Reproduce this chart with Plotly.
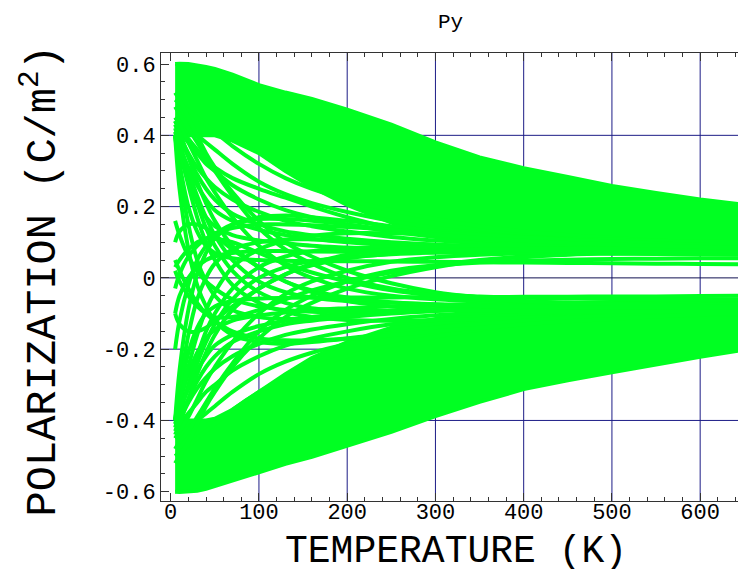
import plotly.graph_objects as go

# ---------------- data ----------------
temperature = [5, 10, 20, 30, 40, 50, 70, 100, 130, 160, 200, 250, 300, 350, 400, 450, 500, 550, 600, 650]

# solid cores of the two bands
upper_top = [0.600, 0.601, 0.600, 0.597, 0.592, 0.586, 0.570, 0.541, 0.520, 0.502, 0.472, 0.430, 0.380, 0.338, 0.308, 0.283, 0.258, 0.238, 0.220, 0.205]
upper_bottom = [0.40, 0.40, 0.40, 0.40, 0.40, 0.40, 0.385, 0.35, 0.30, 0.255, 0.205, 0.155, 0.118, 0.098, 0.086, 0.079, 0.074, 0.071, 0.069, 0.067]
lower_bottom = [-0.600, -0.601, -0.600, -0.597, -0.592, -0.586, -0.570, -0.545, -0.522, -0.502, -0.472, -0.432, -0.388, -0.348, -0.312, -0.287, -0.265, -0.242, -0.221, -0.202]
lower_top = [-0.40, -0.40, -0.40, -0.40, -0.40, -0.395, -0.37, -0.32, -0.27, -0.225, -0.18, -0.14, -0.115, -0.10, -0.093, -0.09, -0.088, -0.087, -0.086, -0.085]

# curves fanning out of the upper band and staying positive
upper_fan = [
    [0.42, 0.41, 0.38, 0.35, 0.32, 0.30, 0.26, 0.22, 0.19, 0.17, 0.15, 0.13, 0.115, 0.105, 0.098, 0.092, 0.088, 0.085, 0.082, 0.080],
    [0.40, 0.37, 0.31, 0.26, 0.22, 0.19, 0.16, 0.135, 0.12, 0.11, 0.10, 0.092, 0.087, 0.083, 0.080, 0.078, 0.076, 0.074, 0.073, 0.072],
    [0.45, 0.44, 0.42, 0.40, 0.38, 0.36, 0.32, 0.27, 0.235, 0.21, 0.185, 0.16, 0.14, 0.125, 0.115, 0.107, 0.100, 0.095, 0.090, 0.087],
    [0.40, 0.35, 0.27, 0.21, 0.17, 0.145, 0.12, 0.105, 0.097, 0.090, 0.085, 0.080, 0.077, 0.074, 0.072, 0.070, 0.068, 0.067, 0.066, 0.065],
    [0.50, 0.49, 0.47, 0.45, 0.43, 0.41, 0.37, 0.32, 0.28, 0.25, 0.22, 0.19, 0.165, 0.145, 0.130, 0.120, 0.112, 0.105, 0.100, 0.096],
    [0.41, 0.39, 0.34, 0.29, 0.25, 0.22, 0.18, 0.15, 0.13, 0.12, 0.11, 0.10, 0.093, 0.088, 0.084, 0.081, 0.078, 0.076, 0.074, 0.072],
    [0.40, 0.32, 0.20, 0.13, 0.09, 0.07, 0.055, 0.050, 0.048, 0.047, 0.047, 0.046, 0.045, 0.044, 0.043, 0.042, 0.041, 0.040, 0.039, 0.038],
    [0.43, 0.40, 0.35, 0.31, 0.28, 0.255, 0.22, 0.185, 0.16, 0.145, 0.13, 0.115, 0.105, 0.098, 0.093, 0.089, 0.086, 0.083, 0.081, 0.079],
    [0.44, 0.42, 0.39, 0.36, 0.33, 0.31, 0.28, 0.25, 0.225, 0.20, 0.17, 0.14, 0.12, 0.108, 0.10, 0.094, 0.09, 0.087, 0.085, 0.083],
]

# curves fanning out of the lower band and staying negative
lower_fan = [
    [-0.42, -0.41, -0.38, -0.35, -0.32, -0.30, -0.26, -0.22, -0.19, -0.17, -0.15, -0.13, -0.118, -0.108, -0.10, -0.095, -0.091, -0.088, -0.085, -0.083],
    [-0.40, -0.37, -0.31, -0.26, -0.22, -0.19, -0.16, -0.135, -0.12, -0.11, -0.10, -0.092, -0.087, -0.083, -0.080, -0.078, -0.076, -0.074, -0.073, -0.072],
    [-0.45, -0.44, -0.42, -0.40, -0.38, -0.36, -0.32, -0.27, -0.235, -0.21, -0.185, -0.16, -0.14, -0.125, -0.115, -0.107, -0.100, -0.095, -0.090, -0.087],
    [-0.40, -0.35, -0.27, -0.21, -0.17, -0.145, -0.12, -0.105, -0.097, -0.090, -0.085, -0.080, -0.077, -0.074, -0.072, -0.070, -0.068, -0.067, -0.066, -0.065],
    [-0.50, -0.49, -0.47, -0.45, -0.43, -0.41, -0.37, -0.32, -0.28, -0.25, -0.22, -0.19, -0.165, -0.145, -0.130, -0.120, -0.112, -0.105, -0.100, -0.096],
    [-0.41, -0.39, -0.34, -0.29, -0.25, -0.22, -0.18, -0.15, -0.13, -0.12, -0.11, -0.10, -0.093, -0.088, -0.084, -0.081, -0.078, -0.076, -0.074, -0.072],
    [-0.40, -0.33, -0.21, -0.14, -0.10, -0.08, -0.065, -0.058, -0.056, -0.055, -0.055, -0.055, -0.054, -0.054, -0.053, -0.053, -0.052, -0.052, -0.051, -0.050],
    [-0.43, -0.40, -0.35, -0.31, -0.28, -0.255, -0.22, -0.185, -0.16, -0.145, -0.13, -0.115, -0.105, -0.098, -0.093, -0.089, -0.086, -0.083, -0.081, -0.079],
]

# curves switching from positive to negative
cross_down = [
    [0.40, 0.30, 0.15, 0.05, -0.01, -0.05, -0.09, -0.11, -0.115, -0.112, -0.105, -0.098, -0.092, -0.088, -0.085, -0.083, -0.081, -0.080, -0.079, -0.078],
    [0.42, 0.38, 0.29, 0.21, 0.14, 0.09, 0.02, -0.04, -0.07, -0.085, -0.092, -0.093, -0.090, -0.087, -0.084, -0.082, -0.080, -0.078, -0.077, -0.076],
    [0.45, 0.43, 0.38, 0.33, 0.28, 0.24, 0.17, 0.09, 0.035, 0.0, -0.03, -0.05, -0.06, -0.066, -0.069, -0.071, -0.072, -0.073, -0.073, -0.074],
    [0.16, 0.12, 0.06, 0.02, -0.01, -0.03, -0.06, -0.08, -0.09, -0.095, -0.095, -0.093, -0.090, -0.088, -0.086, -0.084, -0.083, -0.082, -0.081, -0.080],
    [0.40, 0.36, 0.26, 0.17, 0.10, 0.05, -0.02, -0.07, -0.095, -0.11, -0.118, -0.12, -0.118, -0.115, -0.112, -0.110, -0.108, -0.106, -0.104, -0.102],
    [0.48, 0.46, 0.42, 0.38, 0.34, 0.30, 0.23, 0.14, 0.08, 0.04, 0.0, -0.03, -0.045, -0.052, -0.056, -0.058, -0.059, -0.060, -0.060, -0.060],
    [0.03, 0.05, 0.08, 0.10, 0.11, 0.11, 0.10, 0.07, 0.04, 0.015, -0.01, -0.035, -0.05, -0.06, -0.066, -0.07, -0.072, -0.074, -0.075, -0.076],
    [0.40, 0.25, 0.08, -0.02, -0.08, -0.12, -0.16, -0.18, -0.185, -0.18, -0.17, -0.155, -0.14, -0.13, -0.12, -0.112, -0.106, -0.100, -0.096, -0.093],
    [0.41, 0.37, 0.30, 0.23, 0.17, 0.12, 0.05, -0.01, -0.04, -0.055, -0.065, -0.07, -0.074, -0.076, -0.078, -0.079, -0.080, -0.080, -0.081, -0.081],
    [0.05, 0.02, -0.03, -0.07, -0.10, -0.12, -0.15, -0.17, -0.175, -0.175, -0.17, -0.16, -0.15, -0.14, -0.13, -0.122, -0.115, -0.108, -0.102, -0.098],
    [0.52, 0.50, 0.45, 0.40, 0.35, 0.31, 0.24, 0.16, 0.10, 0.06, 0.02, -0.015, -0.04, -0.055, -0.065, -0.07, -0.074, -0.077, -0.079, -0.080],
    [0.44, 0.41, 0.34, 0.27, 0.21, 0.16, 0.09, 0.03, -0.01, -0.035, -0.055, -0.068, -0.075, -0.079, -0.081, -0.082, -0.083, -0.083, -0.083, -0.083],
    [0.10, 0.13, 0.15, 0.15, 0.14, 0.12, 0.08, 0.03, -0.01, -0.04, -0.065, -0.08, -0.088, -0.092, -0.094, -0.095, -0.095, -0.095, -0.094, -0.094],
]

# curves switching from negative to positive
cross_up = [
    [-0.40, -0.31, -0.16, -0.06, 0.0, 0.04, 0.08, 0.10, 0.108, 0.108, 0.104, 0.098, 0.093, 0.089, 0.086, 0.083, 0.081, 0.079, 0.078, 0.077],
    [-0.42, -0.38, -0.30, -0.22, -0.15, -0.10, -0.03, 0.03, 0.06, 0.075, 0.083, 0.085, 0.084, 0.082, 0.080, 0.078, 0.076, 0.075, 0.074, 0.073],
    [-0.45, -0.43, -0.39, -0.34, -0.29, -0.25, -0.18, -0.10, -0.045, -0.01, 0.02, 0.045, 0.058, 0.065, 0.069, 0.071, 0.072, 0.073, 0.073, 0.073],
    [-0.10, -0.05, 0.0, 0.03, 0.05, 0.06, 0.07, 0.075, 0.075, 0.074, 0.073, 0.072, 0.071, 0.070, 0.070, 0.069, 0.069, 0.068, 0.068, 0.068],
    [-0.40, -0.35, -0.25, -0.16, -0.09, -0.04, 0.03, 0.08, 0.105, 0.118, 0.125, 0.125, 0.122, 0.118, 0.114, 0.110, 0.107, 0.104, 0.102, 0.100],
    [-0.48, -0.46, -0.43, -0.39, -0.35, -0.31, -0.24, -0.15, -0.09, -0.05, -0.01, 0.02, 0.035, 0.043, 0.048, 0.051, 0.053, 0.054, 0.055, 0.055],
    [0.02, -0.01, -0.05, -0.08, -0.10, -0.11, -0.11, -0.09, -0.06, -0.035, -0.01, 0.015, 0.035, 0.05, 0.06, 0.066, 0.07, 0.072, 0.073, 0.074],
    [-0.40, -0.26, -0.09, 0.01, 0.07, 0.11, 0.15, 0.17, 0.175, 0.17, 0.16, 0.145, 0.132, 0.122, 0.114, 0.107, 0.101, 0.097, 0.093, 0.090],
    [-0.41, -0.37, -0.31, -0.24, -0.18, -0.13, -0.06, 0.0, 0.03, 0.047, 0.058, 0.066, 0.071, 0.074, 0.076, 0.077, 0.078, 0.078, 0.079, 0.079],
    [-0.03, 0.01, 0.06, 0.09, 0.11, 0.125, 0.14, 0.15, 0.15, 0.148, 0.143, 0.135, 0.127, 0.120, 0.113, 0.107, 0.102, 0.097, 0.093, 0.090],
    [-0.52, -0.50, -0.46, -0.41, -0.36, -0.32, -0.25, -0.17, -0.11, -0.07, -0.03, 0.005, 0.03, 0.048, 0.058, 0.065, 0.069, 0.071, 0.073, 0.074],
    [-0.44, -0.41, -0.34, -0.27, -0.21, -0.16, -0.09, -0.03, 0.01, 0.035, 0.055, 0.068, 0.075, 0.079, 0.081, 0.082, 0.083, 0.083, 0.083, 0.083],
    [-0.10, -0.13, -0.15, -0.15, -0.14, -0.12, -0.08, -0.03, 0.01, 0.04, 0.065, 0.08, 0.088, 0.092, 0.094, 0.095, 0.095, 0.095, 0.094, 0.094],
    [-0.20, -0.12, -0.02, 0.05, 0.09, 0.12, 0.15, 0.165, 0.165, 0.16, 0.15, 0.135, 0.122, 0.112, 0.104, 0.098, 0.094, 0.090, 0.087, 0.085],
]

x_ticks = [0, 100, 200, 300, 400, 500, 600]
y_ticks = [-0.6, -0.4, -0.2, 0, 0.2, 0.4, 0.6]
y_tick_labels = ["-0.6", "-0.4", "-0.2", "0", "0.2", "0.4", "0.6"]
x_grid = [100, 200, 300, 400, 500, 600]
y_grid = [-0.4, -0.2, 0, 0.2, 0.4]

# ---------------- figure ----------------
GREEN = "#00FF22"
GRID = "#1c1c86"
MONO = '"Liberation Mono", "Nimbus Mono PS", FreeMono, Courier, "DejaVu Sans Mono", monospace'

fig = go.Figure()

for top, bottom in [(upper_top, upper_bottom), (lower_top, lower_bottom)]:
    fig.add_trace(go.Scatter(
        x=temperature + temperature[::-1],
        y=top + bottom[::-1],
        mode="lines", fill="toself", fillcolor=GREEN,
        line=dict(color=GREEN, width=4), hoverinfo="skip", showlegend=False))

for group in (upper_fan, lower_fan, cross_down, cross_up):
    for curve in group:
        fig.add_trace(go.Scatter(
            x=temperature, y=curve, mode="lines",
            line=dict(color=GREEN, width=4, shape="spline"),
            hoverinfo="skip", showlegend=False))

shapes = []
for gx in x_grid:
    shapes.append(dict(type="line", xref="x", yref="paper", x0=gx, x1=gx, y0=0, y1=1,
                       line=dict(color=GRID, width=1), layer="below"))
for gy in y_grid:
    shapes.append(dict(type="line", xref="paper", yref="y", x0=0, x1=1, y0=gy, y1=gy,
                       line=dict(color="#101050" if gy == 0 else GRID, width=1), layer="below"))

annotations = [
    dict(text="Py", xref="paper", yref="paper", x=0.488, y=1, yshift=31,
         xanchor="center", yanchor="middle", showarrow=False,
         font=dict(family=MONO, size=21, color="black")),
    dict(text="TEMPERATURE (K)", xref="paper", yref="paper", x=0.498, y=0, yshift=-50,
         xanchor="center", yanchor="middle", showarrow=False,
         font=dict(family=MONO, size=38, color="black")),
    dict(text="POLARIZATION (C/m<sup>2</sup>)", xref="paper", yref="paper", x=0, y=0.49,
         xshift=-120, xanchor="center", yanchor="middle", textangle=-90, showarrow=False,
         font=dict(family=MONO, size=42, color="black")),
]

fig.update_layout(
    width=746, height=569,
    margin=dict(l=153, r=0, t=45, b=76),
    paper_bgcolor="white", plot_bgcolor="white",
    shapes=shapes, annotations=annotations,
    showlegend=False,
    xaxis=dict(
        range=[-11, 661], tickmode="array", tickvals=x_ticks,
        ticks="inside", ticklen=8, tickcolor="#333", tickwidth=1,
        minor=dict(dtick=20, ticks="inside", ticklen=4, tickcolor="#333", showgrid=False),
        showline=True, linecolor="#333", linewidth=1, mirror="ticks",
        showgrid=False, zeroline=False, ticklabelstandoff=-9,
        tickfont=dict(family=MONO, size=22, color="black"),
    ),
    yaxis=dict(
        range=[-0.626, 0.631], tickmode="array", tickvals=y_ticks, ticktext=y_tick_labels,
        ticks="inside", ticklen=8, tickcolor="#333", tickwidth=1,
        minor=dict(dtick=0.05, ticks="inside", ticklen=4, tickcolor="#333", showgrid=False),
        showline=True, linecolor="#333", linewidth=1, mirror=False,
        showgrid=False, zeroline=False,
        tickfont=dict(family=MONO, size=22, color="black"),
    ),
)

fig.write_html("out.html")
